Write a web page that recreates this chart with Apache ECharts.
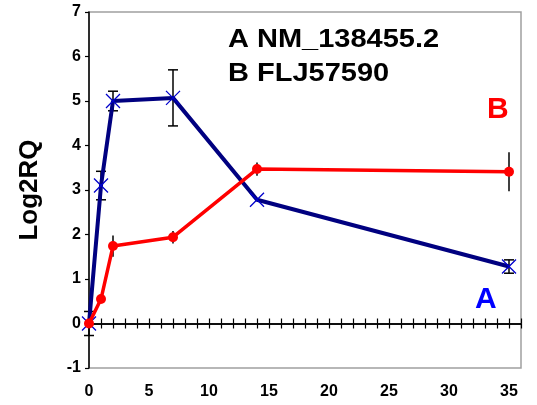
<!DOCTYPE html>
<html>
<head>
<meta charset="utf-8">
<script src="https://cdn.jsdelivr.net/npm/echarts@6/dist/echarts.min.js"></script>
<style>
  html, body { margin: 0; padding: 0; background: #fff; }
  #chart { width: 537px; height: 405px; }
</style>
</head>
<body>
<div id="chart"></div>
<script>
// days after treatment
var days = [0, 1, 2, 7, 14, 35]
// A NM_138455.2
var valuesA = [0, 3.1, 5.0, 5.07, 2.78, 1.28]
var errorsA = [0.27, 0.32, 0.22, 0.63, 0, 0.15]
// B FLJ57590
var valuesB = [0, 0.55, 1.74, 1.94, 3.47, 3.41]
var errorsB = [0, 0, 0.24, 0.14, 0.15, 0.44]
var xTicks = [0, 5, 10, 15, 20, 25, 30, 35]

var chart = echarts.init(document.getElementById('chart'))

var pairs = function (ys) {
  return days.map(function (d, i) { return [d, ys[i]] })
}
var errData = function (ys, es) {
  return days.map(function (d, i) { return [d, ys[i] - es[i], ys[i] + es[i]] })
}
// error bar drawer, cap = half width of the cap line
var errorBar = function (cap) {
  return function (params, api) {
    var lo = api.coord([api.value(0), api.value(1)])
    var hi = api.coord([api.value(0), api.value(2)])
    var style = { stroke: '#000', lineWidth: 1.5 }
    var children = [
      { type: 'line', shape: { x1: lo[0], y1: lo[1], x2: hi[0], y2: hi[1] }, style: style }
    ]
    if (cap > 0 && hi[1] !== lo[1]) {
      children.push({ type: 'line', shape: { x1: lo[0] - cap, y1: lo[1], x2: lo[0] + cap, y2: lo[1] }, style: style })
      children.push({ type: 'line', shape: { x1: hi[0] - cap, y1: hi[1], x2: hi[0] + cap, y2: hi[1] }, style: style })
    }
    return { type: 'group', children: children }
  }
}

var labelFont = { fontFamily: 'Liberation Sans', fontWeight: 'bold', fontSize: 16, color: '#000' }
// plot area; the zero line sits 1/8 of the height above the bottom (y from -1 to 7)
var gridBox = { left: 89, top: 12, right: 16, bottom: 37 }
var zeroBox = { left: 89, top: 12, right: 16, bottom: 37 + (405 - 12 - 37) / 8 }

// zero line with ticks, one grid for each tick direction
var zeroAxis = function (gridIndex, inside) {
  return {
    type: 'value', min: 0, max: 36, interval: 1, gridIndex: gridIndex,
    position: 'bottom',
    axisLine: { onZero: false, lineStyle: { color: '#000', width: 1.5 } },
    axisTick: { inside: inside, length: 5, lineStyle: { color: '#000', width: 1.2 } },
    axisLabel: { show: false },
    splitLine: { show: false }
  }
}
var hiddenY = function (gridIndex) {
  return {
    type: 'value', min: -1, max: 7, gridIndex: gridIndex, show: false,
    splitLine: { show: false }
  }
}

chart.setOption({
  animation: false,
  grid: [
    Object.assign({ show: true, borderColor: '#a0a0a0', borderWidth: 1.5 }, gridBox),
    Object.assign({}, zeroBox),
    Object.assign({}, zeroBox)
  ],
  xAxis: [
    {
      // bottom axis carrying the labels
      type: 'value', min: 0, max: 36, interval: 5, gridIndex: 0,
      position: 'bottom',
      axisLine: { onZero: false, show: false },
      axisTick: { show: false },
      splitLine: { show: false },
      axisLabel: Object.assign({
        margin: 16,
        formatter: function (v) { return xTicks.indexOf(v) >= 0 ? String(v) : '' }
      }, labelFont)
    },
    zeroAxis(1, true),
    zeroAxis(2, false)
  ],
  yAxis: [
    {
      type: 'value', min: -1, max: 7, interval: 1, gridIndex: 0,
      name: 'Log2RQ',
      nameLocation: 'middle',
      nameGap: 46,
      nameRotate: 90,
      nameTextStyle: { fontFamily: 'Liberation Sans', fontWeight: 'bold', fontSize: 26, color: '#000' },
      axisLine: { onZero: false, lineStyle: { color: '#000', width: 1.5 } },
      axisTick: { length: 4, lineStyle: { color: '#000', width: 1.2 } },
      axisLabel: Object.assign({ margin: 8 }, labelFont),
      splitLine: { show: false }
    },
    hiddenY(1),
    hiddenY(2)
  ],
  graphic: [
    {
      type: 'text', x: 228, y: 28, scaleX: 1.16,
      style: { text: 'A NM_138455.2', fontFamily: 'Liberation Sans', fontWeight: 'bold', fontSize: 25, fill: '#000' }
    },
    {
      type: 'text', x: 228, y: 62, scaleX: 1.16,
      style: { text: 'B FLJ57590', fontFamily: 'Liberation Sans', fontWeight: 'bold', fontSize: 25, fill: '#000' }
    },
    {
      type: 'text', x: 487, y: 95,
      style: { text: 'B', fontFamily: 'Liberation Sans', fontWeight: 'bold', fontSize: 30, fill: '#ff0000' }
    },
    {
      type: 'text', x: 475, y: 285,
      style: { text: 'A', fontFamily: 'Liberation Sans', fontWeight: 'bold', fontSize: 30, fill: '#0000ff' }
    }
  ],
  series: [
    {
      type: 'custom', name: 'errA', xAxisIndex: 0, yAxisIndex: 0,
      renderItem: errorBar(5),
      data: errData(valuesA, errorsA), z: 3
    },
    {
      type: 'custom', name: 'errB', xAxisIndex: 0, yAxisIndex: 0,
      renderItem: errorBar(0),
      data: errData(valuesB, errorsB), z: 3
    },
    {
      type: 'line', name: 'A NM_138455.2', xAxisIndex: 0, yAxisIndex: 0,
      data: pairs(valuesA),
      lineStyle: { color: '#000080', width: 4 },
      symbol: 'path://M0,0L10,10M10,0L0,10',
      symbolSize: 14,
      itemStyle: { color: 'none', borderColor: '#0000cc', borderWidth: 1.3 },
      z: 4
    },
    {
      type: 'line', name: 'B FLJ57590', xAxisIndex: 0, yAxisIndex: 0,
      data: pairs(valuesB),
      lineStyle: { color: '#ff0000', width: 3.5 },
      symbol: 'circle',
      symbolSize: 10,
      itemStyle: { color: '#ff0000', borderWidth: 0 },
      z: 5
    }
  ]
})
</script>
</body>
</html>
